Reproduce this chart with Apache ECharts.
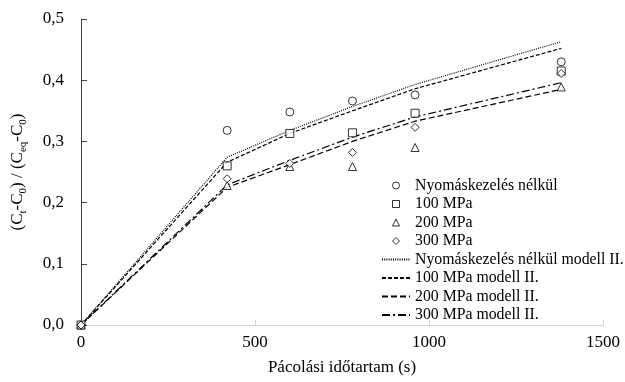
<!DOCTYPE html>
<html><head><meta charset="utf-8">
<script src="https://cdn.jsdelivr.net/npm/echarts@6/dist/echarts.min.js"></script>
<style>html,body{margin:0;padding:0;background:#fff}#c{width:625px;height:382px}</style>
</head><body><div id="c"></div>
<script>
const times = [0, 420, 600, 780, 960, 1380];
const noTreat = [0, 0.318, 0.348, 0.366, 0.376, 0.430];
const mpa100 = [0, 0.260, 0.313, 0.314, 0.346, 0.415];
const mpa200 = [0, 0.228, 0.259, 0.259, 0.290, 0.389];
const mpa300 = [0, 0.239, 0.264, 0.282, 0.323, 0.411];
const noTreatModel = [0, 0.274, 0.318, 0.357, 0.393, 0.463];
const mpa100Model = [0, 0.266, 0.313, 0.350, 0.386, 0.452];
const mpa200Model = [0, 0.225, 0.262, 0.300, 0.333, 0.385];
const mpa300Model = [0, 0.229, 0.269, 0.307, 0.340, 0.396];
const xTicks = [0, 500, 1000, 1500];
const yTicks = [0, 0.1, 0.2, 0.3, 0.4, 0.5];
const names = ['Nyomáskezelés nélkül', '100 MPa', '200 MPa', '300 MPa',
  'Nyomáskezelés nélkül modell II.', '100 MPa modell II.', '200 MPa modell II.', '300 MPa modell II.'];

const pair = (ys) => times.map((t, i) => [t, ys[i]]);
const F = 'Liberation Serif';
const scat = (name, ys, symbol, size) => ({
  name, type: 'scatter', data: pair(ys), symbol, symbolSize: size,
  itemStyle: { color: '#fff', borderColor: '#000', borderWidth: 1 }, z: 5
});
const line = (name, ys, dash) => ({
  name, type: 'line', data: pair(ys), symbol: 'none', showSymbol: false,
  lineStyle: { color: '#000', width: 1.2, type: dash }, itemStyle: { color: '#000' }
});
const icons = ['path://M5,0A5,5,0,1,1,4.99,0Z', 'path://M0,0H10V10H0Z', 'path://M5,0L10,10H0Z', 'path://M5,0L10,5L5,10L0,5Z'];
const legendData = names.map((n, i) => i < 4
  ? { name: n, icon: icons[i], itemStyle: { color: '#fff', borderColor: '#000', borderWidth: 1 } }
  : { name: n, itemStyle: { opacity: 0 } });

const chart = echarts.init(document.getElementById('c'), null, { renderer: 'canvas' });
chart.setOption({
  animation: false,
  backgroundColor: '#fff',
  grid: { left: 74, right: 22, top: 19, bottom: 57 },
  xAxis: {
    type: 'value', min: xTicks[0], max: xTicks[xTicks.length - 1], interval: 500,
    name: 'Pácolási időtartam (s)', nameLocation: 'middle', nameGap: 34,
    nameTextStyle: { fontFamily: F, fontSize: 17, color: '#000' },
    axisLine: { lineStyle: { color: '#d0d0d0', width: 1 } },
    axisTick: { inside: true, length: 5, lineStyle: { color: '#d0d0d0' } },
    axisLabel: { fontFamily: F, fontSize: 17, color: '#000', margin: 9, formatter: v => String(v) },
    splitLine: { show: false }
  },
  yAxis: {
    type: 'value', min: yTicks[0], max: yTicks[yTicks.length - 1], interval: 0.1,
    name: '{n|(C}{s|t}{n|-C}{s|0}{n|) / (C}{s|eq}{n|-C}{s|0}{n|)}',
    nameLocation: 'middle', nameGap: 52, nameRotate: 90,
    nameTextStyle: {
      fontFamily: F, fontSize: 17, color: '#000',
      rich: {
        n: { fontFamily: F, fontSize: 17, color: '#000', lineHeight: 22, verticalAlign: 'middle' },
        s: { fontFamily: F, fontSize: 11, color: '#000', lineHeight: 22, padding: [10, 0, 0, 0], verticalAlign: 'bottom' }
      }
    },
    axisLine: { show: true, lineStyle: { color: '#404040', width: 1 } },
    axisTick: { show: true, inside: true, length: 6, lineStyle: { color: '#404040' } },
    axisLabel: { fontFamily: F, fontSize: 17, color: '#000', margin: 17,
      formatter: v => v.toFixed(1).replace('.', ',') },
    splitLine: { show: false }
  },
  legend: {
    orient: 'vertical', left: 376, top: 172, itemWidth: 28, itemHeight: 7, itemGap: 1.5,
    data: legendData,
    textStyle: { fontFamily: F, fontSize: 15.8, color: '#000', lineHeight: 17 },
    inactiveColor: '#000'
  },
  series: [
    scat(names[0], noTreat, 'circle', 8),
    scat(names[1], mpa100, 'rect', 8),
    scat(names[2], mpa200, 'triangle', 8),
    scat(names[3], mpa300, 'diamond', 8),
    line(names[4], noTreatModel, [1, 1.2]),
    line(names[5], mpa100Model, [4, 2]),
    line(names[6], mpa200Model, [6, 3]),
    line(names[7], mpa300Model, [8, 3, 2, 3])
  ]
});
</script></body></html>
